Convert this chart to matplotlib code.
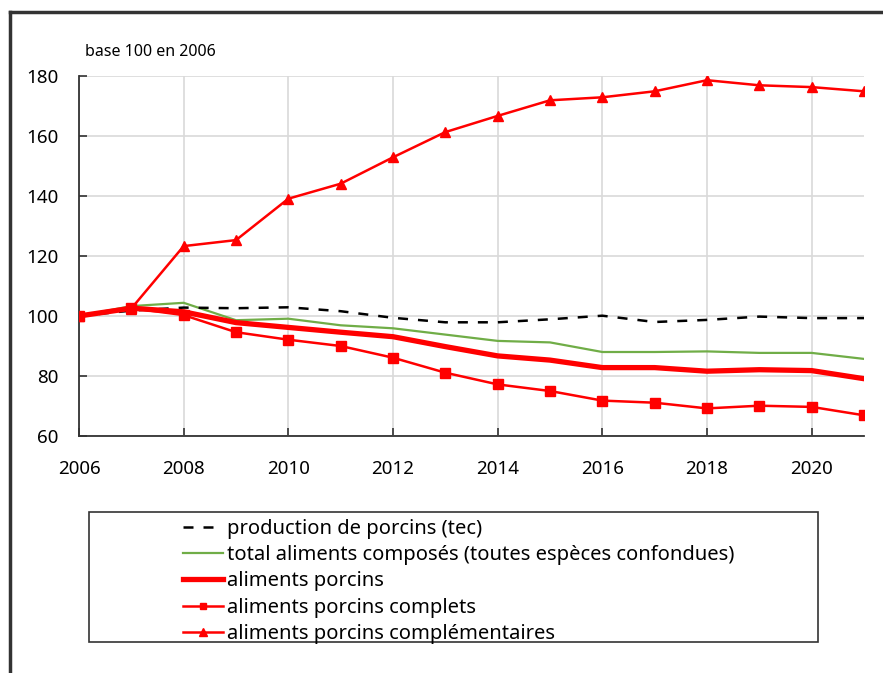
import matplotlib
matplotlib.use("Agg")
import matplotlib.pyplot as plt
from matplotlib.lines import Line2D
from matplotlib.patches import Rectangle

plt.rcParams['font.family'] = ['Noto Sans', 'DejaVu Sans']

years = list(range(2006, 2022))
production = [100, 101.8, 102.8, 102.6, 102.9, 101.6, 99.4, 97.9, 97.9, 98.9, 100.1, 98.0, 98.7, 99.8, 99.3, 99.3]
total_aliments = [100, 103.3, 104.4, 98.6, 99.1, 96.9, 95.9, 93.8, 91.7, 91.2, 88.0, 88.0, 88.2, 87.7, 87.7, 85.7]
aliments_porcins = [100, 102.6, 101.4, 97.8, 96.2, 94.6, 93.1, 89.8, 86.7, 85.3, 82.8, 82.8, 81.6, 82.1, 81.8, 79.1]
complets = [100, 102.6, 100.3, 94.6, 92.1, 90.0, 86.1, 81.1, 77.2, 75.0, 71.8, 71.1, 69.2, 70.1, 69.7, 66.9]
complementaires = [100, 102.5, 123.3, 125.3, 139.1, 144.1, 152.9, 161.3, 166.7, 171.9, 172.9, 174.9, 178.6, 176.9, 176.3, 174.9]

labels = ["production de porcins (tec)",
          "total aliments composés (toutes espèces confondues)",
          "aliments porcins",
          "aliments porcins complets",
          "aliments porcins complémentaires"]
xticks = [2006, 2008, 2010, 2012, 2014, 2016, 2018, 2020]
yticks = [60, 80, 100, 120, 140, 160, 180]

W, H = 883, 673
fig = plt.figure(figsize=(W / 100, H / 100), dpi=100)
ax = fig.add_axes([79 / W, 1 - 436 / H, (864 - 79) / W, (436 - 76) / H])

red = '#ff0000'
ax.plot(years, complets, color=red, lw=1.8, marker='s', ms=7, zorder=4, label=labels[3])
ax.plot(years, complementaires, color=red, lw=1.8, marker='^', ms=7.5, zorder=4, label=labels[4])
ax.plot(years, aliments_porcins, color=red, lw=3.8, zorder=3, label=labels[2])
ax.plot(years, total_aliments, color='#70ad47', lw=1.6, zorder=2, label=labels[1])
ax.plot(years, production, color='black', lw=1.8, ls=(0, (4, 4)), zorder=2, label=labels[0])

ax.set_xlim(2006, 2021)
ax.set_ylim(60, 180)
ax.set_xticks(xticks)
ax.set_yticks(yticks)
ax.tick_params(axis='both', direction='in', length=6, width=1.2, color='#333333',
               labelsize=13.5, pad=17)
ax.tick_params(axis='y', pad=15)
ax.grid(True, color='#d9d9d9', lw=1.2, zorder=0)
ax.set_axisbelow(True)
for s in ['top', 'right']:
    ax.spines[s].set_visible(False)
for s in ['left', 'bottom']:
    ax.spines[s].set_color('#333333')
    ax.spines[s].set_linewidth(1.3)

fig.text(85 / W, 1 - 52 / H, "base 100 en 2006", fontsize=11.5, va='center', ha='left')

# outer frame
fig.add_artist(Line2D([10 / W, 10 / W], [0, 1 - 12 / H], color='#333333', lw=2.5,
                      transform=fig.transFigure, solid_capstyle='projecting'))
fig.add_artist(Line2D([10 / W, 1], [1 - 12 / H, 1 - 12 / H], color='#333333', lw=2.5,
                      transform=fig.transFigure, solid_capstyle='projecting'))

# legend box
fig.add_artist(Rectangle((89 / W, 1 - 642 / H), (818 - 89) / W, (642 - 512) / H,
                         transform=fig.transFigure, fill=False, ec='#333333', lw=1.2))

handles_map = {l.get_label(): l for l in ax.get_lines()}
handles = [handles_map[l] for l in labels]
leg = fig.legend(handles, labels, loc='upper left', bbox_to_anchor=(183 / W, 1 - 519 / H),
                 frameon=False, fontsize=14.5, handlelength=2.0, handletextpad=0.2,
                 labelspacing=0.31, borderpad=0, borderaxespad=0, markerscale=0.7)

fig.savefig("out.png", dpi=100)
